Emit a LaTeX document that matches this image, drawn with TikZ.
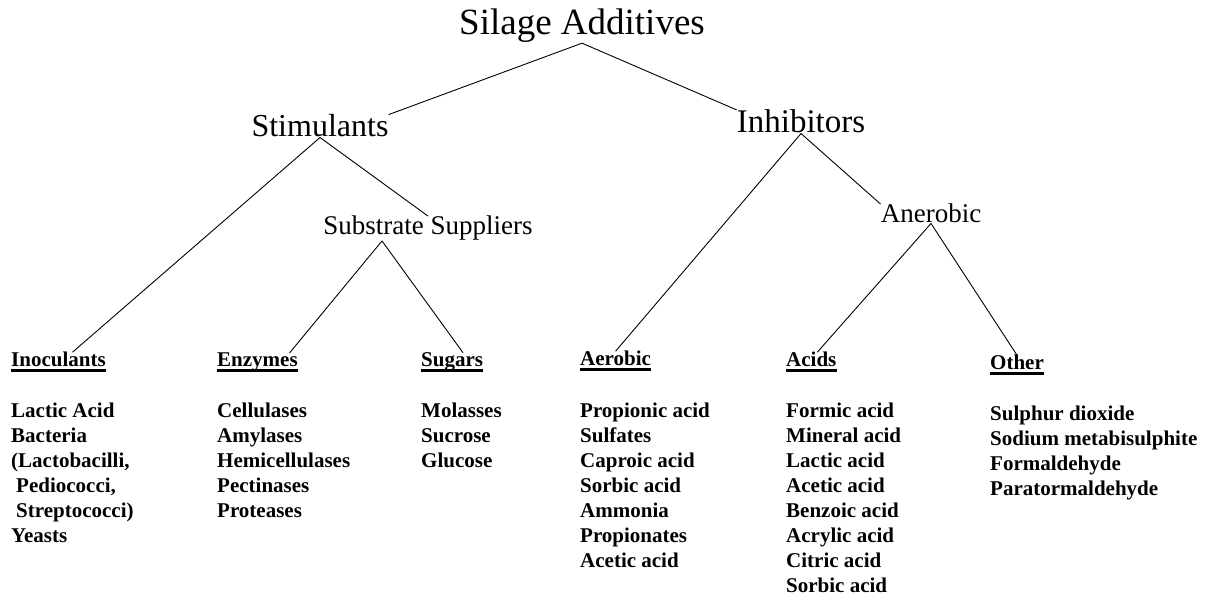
\documentclass[tikz,border=0pt]{standalone}
\usepackage{fontspec}
\setmainfont{Liberation Serif}
\usepackage{tikz}
\usetikzlibrary{positioning}

\begin{document}
\begin{tikzpicture}[
			x=1pt, y=-1pt,
			top/.style = {inner sep=0pt, anchor=base},
			group/.style = {inner sep=0pt, anchor=base west, font=\fontsize{21}{25}\selectfont\bfseries},
			list/.style = {group, align=left},
			link/.style = {line width=0.9pt},
			uline/.style = {line width=3.2pt},
			]
			\useasboundingbox (0,0) rectangle (1218,601);
			% upper levels
			\node[top, font=\fontsize{37}{40}\selectfont] (root) at (582,35) {Silage Additives};
			\node[top, font=\fontsize{32}{36}\selectfont] (stim) at (320,137) {Stimulants};
			\node[top, font=\fontsize{33}{36}\selectfont] (inh) at (801,133) {Inhibitors};
			\node[top, font=\fontsize{27}{30}\selectfont] (ss) at (428,235) {Substrate Suppliers};
			\node[top, font=\fontsize{27}{30}\selectfont] (aner) at (931,223) {Anerobic};
			% groups
			\node[group] (inoc) at (11,367) {Inoculants};
			\node[group] (enz) at (217,367) {Enzymes};
			\node[group] (sug) at (421,367) {Sugars};
			\node[group] (aer) at (580,366) {Aerobic};
			\node[group] (acid) at (786,367) {Acids};
			\node[group] (oth) at (990,370) {Other};
			% lists (placed by the baseline of their last line)
			\node[list] (inoclist) at (11,542) {Lactic Acid\\Bacteria\\(Lactobacilli,\\\hspace*{5pt}Pediococci,\\\hspace*{5pt}Streptococci)\\Yeasts};
			\node[list] (enzlist) at (217,517) {Cellulases\\Amylases\\Hemicellulases\\Pectinases\\Proteases};
			\node[list] (suglist) at (421,467) {Molasses\\Sucrose\\Glucose};
			\node[list] (aerlist) at (580,567) {Propionic acid\\Sulfates\\Caproic acid\\Sorbic acid\\Ammonia\\Propionates\\Acetic acid};
			\node[list] (acidlist) at (786,592) {Formic acid\\Mineral acid\\Lactic acid\\Acetic acid\\Benzoic acid\\Acrylic acid\\Citric acid\\Sorbic acid};
			\node[list] (othlist) at (990,495) {Sulphur dioxide\\Sodium metabisulphite\\Formaldehyde\\Paratormaldehyde};
			% underlines
			\draw[uline] ([yshift=-3.5pt]inoc.base west) -- ([yshift=-3.5pt]inoc.base east);
			\draw[uline] ([yshift=-3.5pt]enz.base west) -- ([yshift=-3.5pt]enz.base east);
			\draw[uline] ([yshift=-3.5pt]sug.base west) -- ([yshift=-3.5pt]sug.base east);
			\draw[uline] ([yshift=-3.5pt]aer.base west) -- ([yshift=-3.5pt]aer.base east);
			\draw[uline] ([yshift=-3.5pt]acid.base west) -- ([yshift=-3.5pt]acid.base east);
			\draw[uline] ([yshift=-3.5pt]oth.base west) -- ([yshift=-3.5pt]oth.base east);
			% tree lines
			\draw[link] (root.south) -- (stim.north east);
			\draw[link] (root.south) -- (inh.north west);
			\draw[link] (stim.south) -- ([xshift=14pt]inoc.north);
			\draw[link] (stim.south) -- (ss.north);
			\draw[link] ([xshift=-46pt]ss.south) -- ([xshift=32pt]enz.north);
			\draw[link] ([xshift=-46pt]ss.south) -- ([xshift=11pt]sug.north);
			\draw[link] (inh.south) -- (aer.north);
			\draw[link] (inh.south) -- (aner.north west);
			\draw[link] (aner.south) -- ([xshift=6pt]acid.north);
			\draw[link] (aner.south) -- (oth.north);
		\end{tikzpicture}
\end{document}
